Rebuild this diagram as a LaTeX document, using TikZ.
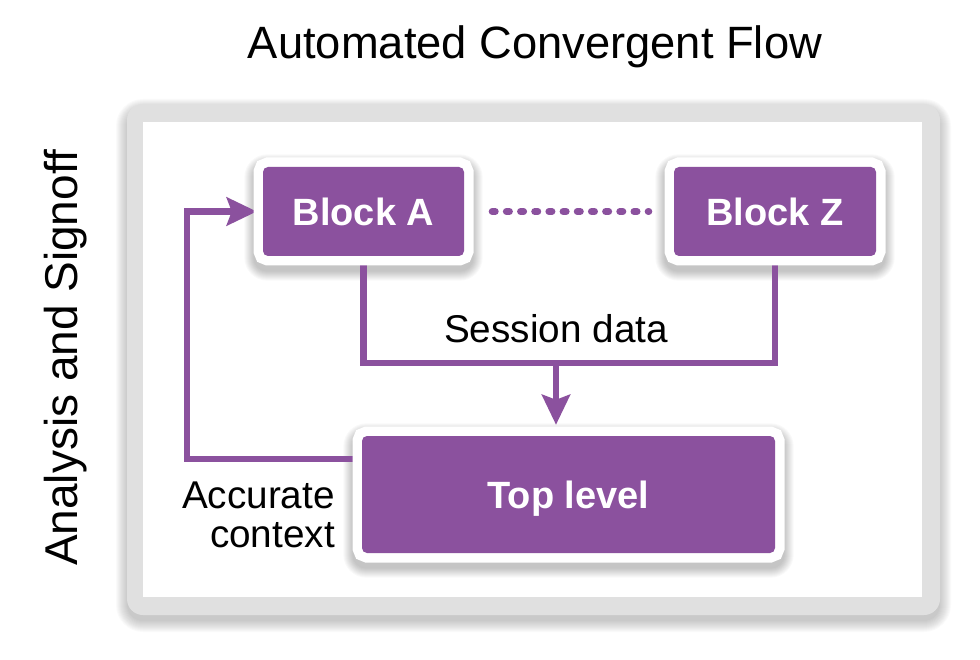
\documentclass[tikz,border=0pt]{standalone}
\usepackage{fontspec}
\setmainfont{Liberation Sans}
\usetikzlibrary{arrows.meta,calc}
\definecolor{purp}{RGB}{139,81,158}
\definecolor{framegray}{RGB}{224,224,224}
\pgfdeclarelayer{shadowlayer}
\pgfdeclarelayer{linelayer}
\pgfsetlayers{shadowlayer,linelayer,main}
\begin{document}
\begin{tikzpicture}[x=1pt,y=-1pt,
  block/.style={fill=purp, text=white, rounded corners=5pt, inner sep=0pt,
    text depth=0pt, font=\fontsize{38}{40}\selectfont\bfseries,
    preaction={draw=white, line width=19pt}},
  flow/.style={draw=purp, line width=6.5pt},
  tip/.style={-{Stealth[length=30pt,width=28pt,inset=5pt]}},
  lbl/.style={font=\fontsize{38.7}{40}\selectfont, inner sep=0pt},
  big/.style={font=\fontsize{45.3}{50}\selectfont, inner sep=0pt},
  softshadow/.style={fill=black, opacity=0.02},
]
\useasboundingbox (0,0) rectangle (980,660);

% frame with its shadow
\begin{pgfonlayer}{shadowlayer}
  \foreach \i in {0,...,11}{
    \pgfmathsetmacro\rr{16+\i}
    \fill[softshadow, rounded corners=\rr pt] (127-\i,104-\i+6) rectangle (940+\i,615+\i+6);
  }
  \node[fill=framegray, rounded corners=16pt, minimum width=813pt, minimum height=511pt, inner sep=0pt] (frame) at (533.5,359.5) {};
  \node[fill=white, minimum width=779pt, minimum height=475pt, inner sep=0pt] (inner) at (532.5,359.5) {};
\end{pgfonlayer}

% blocks
\node[block, minimum width=201pt, minimum height=89pt] (A) at (363.5,211.5) {Block A};
\node[block, minimum width=202pt, minimum height=89pt] (Z) at (775,211.5) {Block Z};
\node[block, minimum width=413pt, minimum height=117pt] (T) at (568.5,494.5) {Top level};

% block shadows
\begin{pgfonlayer}{shadowlayer}
  \foreach \n in {A,Z,T}{
    \foreach \i in {0,...,9}{
      \pgfmathsetmacro\rr{14+\i}
      \fill[softshadow, opacity=0.025, rounded corners=\rr pt]
        ($(\n.north west)+(-9.5-\i,-3.5-\i)$) rectangle ($(\n.south east)+(9.5+\i,15.5+\i)$);
    }
  }
\end{pgfonlayer}

% texts
\node[big, anchor=base] (title) at (535,59) {Automated Convergent Flow};
\node[big, rotate=90, anchor=base, font=\fontsize{46}{50}\selectfont] (side) at (77,358) {Analysis and Signoff};
\node[lbl, anchor=base] (sd) at (556,342) {Session data};
\node[lbl, anchor=base east] (ac1) at (335,508) {Accurate};
\node[lbl, anchor=base east] (ac2) at (335,547) {context};

% connectors
\coordinate (merge) at (556,363);
\coordinate (bend) at (187,459);
\begin{pgfonlayer}{linelayer}
  \draw[flow] (A.south) |- (merge) -| (Z.south);
  \draw[flow, tip] (merge) -- ($(merge |- T.north)+(0,-11)$);
  \draw[flow, tip] (T.west |- bend) -- (bend) |- ([xshift=-6pt]A.west);
  \draw[purp, line width=7pt, line cap=round, dash pattern=on 3pt off 11.18pt]
    ([xshift=28pt]A.east) -- ([xshift=-25pt]Z.west);
\end{pgfonlayer}
\end{tikzpicture}
\end{document}
